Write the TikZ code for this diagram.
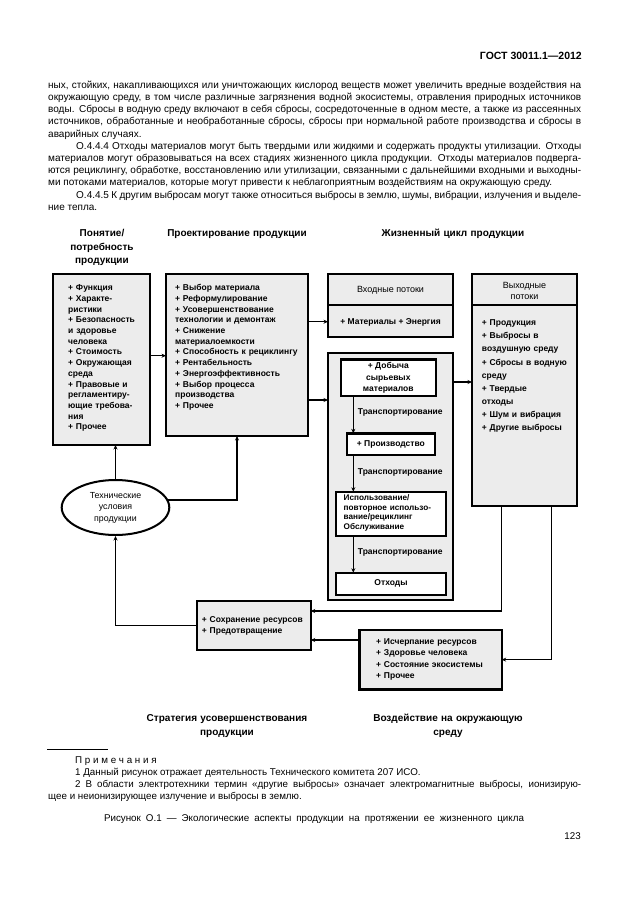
\documentclass[tikz,border=0pt]{standalone}
\usepackage{fontspec}
\setmainfont{Liberation Sans}
\usetikzlibrary{arrows.meta,shapes.geometric}
\definecolor{boxgray}{RGB}{236,236,236}
\begin{document}
\begin{tikzpicture}[x=1pt,y=-1pt,
  box/.style={draw=black,line width=2.4pt,fill=boxgray,rectangle,inner sep=0pt,outer sep=0pt,anchor=north west},
  wbox/.style={box,fill=white},
  conn/.style={line width=1.5pt,-{Stealth[length=4.5pt,width=4pt]}},
  bline/.style={anchor=base west,inner sep=0pt,font=\fontsize{10}{12.2}\selectfont},
  nline/.style={anchor=base west,inner sep=0pt,font=\fontsize{9.8}{11.5}\selectfont},
  dtext/.style={anchor=base west,inner sep=0pt,align=left,text width=#1,font=\fontsize{8.5}{10.7}\selectfont\bfseries},
  dlab/.style={anchor=base west,inner sep=0pt,font=\fontsize{8.5}{10}\selectfont\bfseries},
  head/.style={anchor=base,inner sep=0pt,align=center,text width=200pt,font=\fontsize{10}{13.5}\selectfont\bfseries},
  ttl/.style={inner sep=0pt,align=center,font=\fontsize{9}{11}\selectfont},
]
\fill[white] (0,0) rectangle (630,913);
\useasboundingbox (0,0) rectangle (630,913);

% header
\node[anchor=base east,inner sep=0pt,font=\fontsize{10.5}{12}\selectfont\bfseries] (hdr) at (582,59) {ГОСТ 30011.1—2012};

% body text
\node[bline] (l1) at (48,88.2) {\makebox[533pt][s]{ных, стойких, накапливающихся или уничтожающих кислород веществ может увеличить вредные воздействия на}};
\node[bline] (l2) at (48,100.4) {\makebox[533pt][s]{окружающую среду, в том числе различные загрязнения водной экосистемы, отравления природных источников}};
\node[bline] (l3) at (48,112.6) {\makebox[533pt][s]{воды. Сбросы в водную среду включают в себя сбросы, сосредоточенные в одном месте, а также из рассеянных}};
\node[bline] (l4) at (48,124.8) {\makebox[533pt][s]{источников, обработанные и необработанные сбросы, сбросы при нормальной работе производства и сбросы в}};
\node[bline] (l5) at (48,137) {аварийных случаях.};
\node[bline] (l6) at (76,149.2) {\makebox[505pt][s]{О.4.4.4 Отходы материалов могут быть твердыми или жидкими и содержать продукты утилизации. Отходы}};
\node[bline] (l7) at (48,161.4) {\makebox[533pt][s]{материалов могут образовываться на всех стадиях жизненного цикла продукции. Отходы материалов подверга-}};
\node[bline] (l8) at (48,173.6) {\makebox[533pt][s]{ются рециклингу, обработке, восстановлению или утилизации, связанными с дальнейшими входными и выходны-}};
\node[bline] (l9) at (48,185.8) {ми потоками материалов, которые могут привести к неблагоприятным воздействиям на окружающую среду.};
\node[bline] (l10) at (76,198) {\makebox[505pt][s]{О.4.4.5 К другим выбросам могут также относиться выбросы в землю, шумы, вибрации, излучения и выделе-}};
\node[bline] (l11) at (48,210.2) {ние тепла.};

% column headings
\node[head] (h1) at (102,236.5) {Понятие/\\потребность\\продукции};
\node[head] (h2) at (237,236.5) {Проектирование продукции};
\node[head] (h3) at (453,236.5) {Жизненный цикл продукции};

% boxes
\node[box,minimum width=97pt,minimum height=171pt] (b1) at (53,274) {};
\node[box,minimum width=142pt,minimum height=162pt] (b2) at (166,274) {};
\node[box,minimum width=125pt,minimum height=62.7pt] (b3) at (328,274) {};
\node[box,minimum width=105pt,minimum height=231.7pt] (b4) at (472,274) {};
\node[box,minimum width=125pt,minimum height=247.3pt] (b5) at (328,352.7) {};
\coordinate (dv) at (0,305);
\draw[line width=2.4pt] (b3.west |- dv) -- (b3.east |- dv);
\draw[line width=2.4pt] (b4.west |- dv) -- (b4.east |- dv);

\node[wbox,minimum width=95.3pt,minimum height=36.7pt] (dob) at (340.7,359.3) {};
\node[wbox,minimum width=88.3pt,minimum height=21.7pt] (prz) at (346.7,433.3) {};
\node[wbox,minimum width=110pt,minimum height=44.3pt] (isp) at (336,491.7) {};
\node[wbox,minimum width=110pt,minimum height=22.3pt] (otx) at (336,572.7) {};

\node[draw=black,line width=2pt,fill=white,ellipse,inner sep=0pt,minimum width=107.6pt,minimum height=55pt,align=center,font=\fontsize{8.8}{11.5}\selectfont] (el) at (115.5,507.5) {Технические\\условия\\продукции};

\node[box,minimum width=114pt,minimum height=49.3pt] (b6) at (196.7,600.7) {};
\node[box,minimum width=142.4pt,minimum height=59.3pt] (b7) at (359.3,630) {};

% box texts
\node[dtext=92pt] (t1) at (68,290.7) {+ Функция\\+ Характе-\\ристики\\+ Безопасность\\и здоровье\\человека\\+ Стоимость\\+ Окружающая\\среда\\+ Правовые и\\регламентиру-\\ющие требова-\\ния\\+ Прочее};
\node[dtext=140pt] (t2) at (175,290.7) {+ Выбор материала\\+ Реформулирование\\+ Усовершенствование\\технологии и демонтаж\\+ Снижение\\материалоемкости\\+ Способность к рециклингу\\+ Рентабельность\\+ Энергоэффективность\\+ Выбор процесса\\производства\\+ Прочее};
\node[ttl] (t3a) at (390.5,290) {Входные потоки};
\node[inner sep=0pt,font=\fontsize{8.5}{10}\selectfont\bfseries] (t3b) at (390.5,322.5) {+ Материалы + Энергия};
\node[ttl] (t4a) at (524.5,290.5) {Выходные\\потоки};
\node[dtext=100pt,font=\fontsize{8.5}{13.1}\selectfont\bfseries] (t4b) at (481.7,325.7) {+ Продукция\\+ Выбросы в\\воздушную среду\\+ Сбросы в водную\\среду\\+ Твердые\\отходы\\+ Шум и вибрация\\+ Другие выбросы};

\node[inner sep=0pt,align=center,font=\fontsize{8.5}{11.2}\selectfont\bfseries] (tdob) at (388.3,377.8) {+ Добыча\\сырьевых\\материалов};
\node[inner sep=0pt,font=\fontsize{8.5}{10}\selectfont\bfseries] (tprz) at (prz.center) {+ Производство};
\node[anchor=west,inner sep=0pt,align=left,text width=104pt,font=\fontsize{8.2}{9.5}\selectfont\bfseries] (tisp) at (343.5,513) {Использование/\\повторное использо-\\вание/рециклинг\\Обслуживание};
\node[inner sep=0pt,font=\fontsize{8.5}{10}\selectfont\bfseries] (totx) at (otx.center) {Отходы};

\node[dlab] (tr1) at (357.7,414) {Транспортирование};
\node[dlab] (tr2) at (357.7,474) {Транспортирование};
\node[dlab] (tr3) at (357.7,554) {Транспортирование};

\node[dtext=110pt] (t6) at (201.7,622.7) {+ Сохранение ресурсов\\+ Предотвращение};
\node[dtext=125pt,font=\fontsize{8.5}{11.6}\selectfont\bfseries] (t7) at (376,644) {+ Исчерпание ресурсов\\+ Здоровье человека\\+ Состояние экосистемы\\+ Прочее};

% bottom headings
\node[head] (h4) at (227,721.5) {Стратегия усовершенствования\\продукции};
\node[head] (h5) at (448,721.5) {Воздействие на окружающую\\среду};

% connectors
\coordinate (ya) at (0,355.7);
\coordinate (yb) at (0,321.7);
\coordinate (yc) at (0,400);
\coordinate (yd) at (0,382);
\coordinate (ax) at (353.3,0);
\coordinate (p1) at (501.7,611);
\coordinate (p2) at (551.7,0);
\coordinate (ye) at (0,640);

\draw[conn] (b1.east |- ya) -- (b2.west |- ya);
\draw[conn] (b2.east |- yb) -- (b3.west |- yb);
\draw[conn] (b2.east |- yc) -- (b5.west |- yc);
\draw[conn] (b5.east |- yd) -- (b4.west |- yd);
\draw[conn] (el.north) -- (el.north |- b1.south);
\draw[conn] (el.8) -| (b2.south);
\draw[conn] (b6.west) -| (el.south);
\draw[conn] (b4.south -| p1) -- (p1) -- (p1 -| b6.east);
\draw[conn] (b4.south -| p2) |- (b7.east);
\draw[conn] (b7.west |- ye) -- (b6.east |- ye);
\draw[conn] (dob.south -| ax) -- (prz.north -| ax);
\draw[conn] (prz.south -| ax) -- (isp.north -| ax);
\draw[conn] (isp.south -| ax) -- (otx.north -| ax);

% notes
\coordinate (r1) at (47,749);
\coordinate (r2) at (108,749);
\draw[line width=0.8pt] (r1) -- (r2);
\node[nline] (n0) at (75,763) {П р и м е ч а н и я};
\node[nline] (n1) at (75,775.5) {1 Данный рисунок отражает деятельность Технического комитета 207 ИСО.};
\node[nline] (n2) at (75,787.5) {\makebox[506pt][s]{2 В области электротехники термин «другие выбросы» означает электромагнитные выбросы, ионизирую-}};
\node[nline] (n3) at (48,799) {щее и неионизирующее излучение и выбросы в землю.};
\node[anchor=base,inner sep=0pt,font=\fontsize{9.8}{11.5}\selectfont] (cap) at (314,821) {\makebox[420pt][s]{Рисунок О.1 — Экологические аспекты продукции на протяжении ее жизненного цикла}};
\node[anchor=base east,inner sep=0pt,font=\fontsize{9.8}{11.5}\selectfont] (pg) at (581,839) {123};
\end{tikzpicture}
\end{document}
